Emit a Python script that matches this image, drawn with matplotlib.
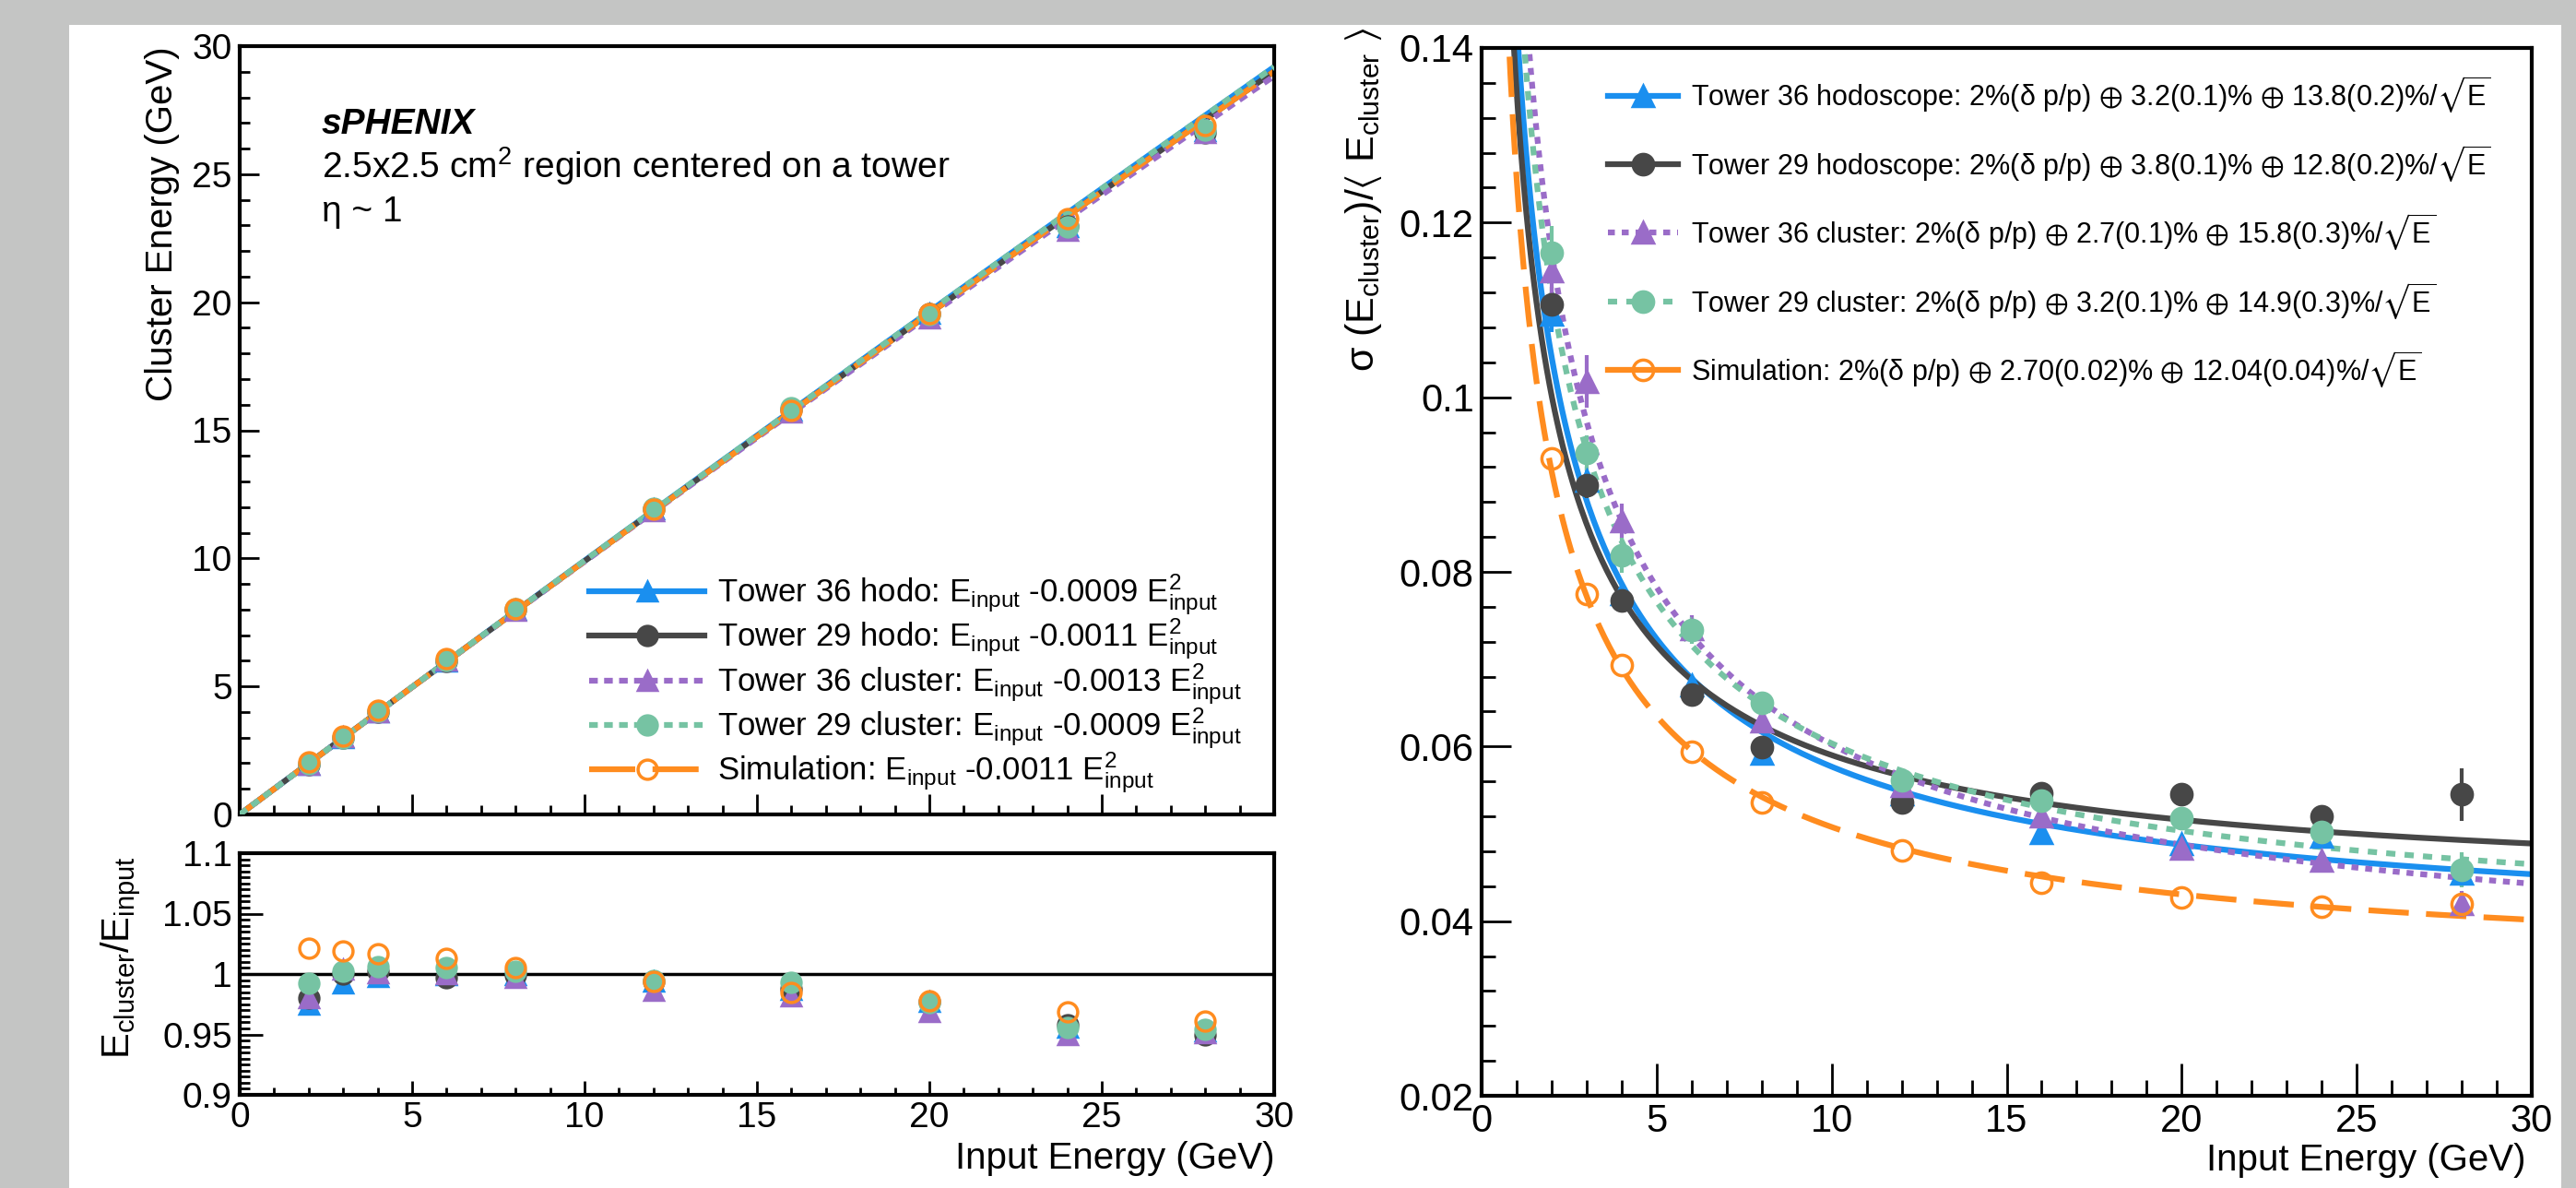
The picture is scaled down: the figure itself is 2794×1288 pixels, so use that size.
import numpy as np
import matplotlib
matplotlib.use('Agg')
import matplotlib.pyplot as plt
from matplotlib.lines import Line2D
from matplotlib.patches import Rectangle
from matplotlib.ticker import MultipleLocator, FuncFormatter

# ── data ──
energy = np.array([2, 3, 4, 6, 8, 12, 16, 20, 24, 28])

# E_cluster / E_input
ratio_t36_hodo = np.array([0.975, 0.992, 0.998, 0.999, 0.999, 0.994, 0.987, 0.977, 0.956, 0.953])
ratio_t29_hodo = np.array([0.980, 1.000, 1.002, 0.997, 0.999, 0.994, 0.988, 0.977, 0.958, 0.950])
ratio_t36_clus = np.array([0.980, 1.004, 1.001, 1.000, 0.997, 0.986, 0.982, 0.969, 0.950, 0.951])
ratio_t29_clus = np.array([0.992, 1.002, 1.006, 1.005, 1.002, 0.995, 0.993, 0.976, 0.956, 0.954])
ratio_sim      = np.array([1.021, 1.019, 1.017, 1.013, 1.005, 0.994, 0.985, 0.978, 0.969, 0.961])

# sigma / <E>
res_t36_hodo = np.array([0.1095, 0.0905, 0.0775, 0.0670, 0.0592, 0.0545, 0.0501, 0.0488, 0.0497, 0.0455])
res_t29_hodo = np.array([0.1106, 0.0899, 0.0767, 0.0660, 0.0599, 0.0536, 0.0546, 0.0545, 0.0520, 0.0545])
res_t36_clus = np.array([0.1144, 0.1018, 0.0858, 0.0735, 0.0629, 0.0555, 0.0520, 0.0483, 0.0469, 0.0420])
res_t29_clus = np.array([0.1166, 0.0936, 0.0819, 0.0733, 0.0650, 0.0561, 0.0538, 0.0518, 0.0502, 0.0459])
res_sim      = np.array([0.0930, 0.0775, 0.0693, 0.0594, 0.0536, 0.0481, 0.0444, 0.0427, 0.0417, 0.0420])

err_t36_hodo = np.array([0.002, 0.0015, 0.001, 0.001, 0.001, 0.0008, 0.0008, 0.0008, 0.001, 0.0015])
err_t29_hodo = np.array([0.002, 0.0015, 0.001, 0.001, 0.001, 0.0008, 0.0008, 0.0008, 0.001, 0.003])
err_t36_clus = np.array([0.003, 0.003, 0.002, 0.0015, 0.001, 0.001, 0.001, 0.001, 0.001, 0.0015])
err_t29_clus = np.array([0.003, 0.002, 0.002, 0.0015, 0.001, 0.001, 0.001, 0.001, 0.0015, 0.002])
err_sim      = np.zeros(10)

# fit parameters from the legends
quad_coef   = [0.0009, 0.0011, 0.0013, 0.0009, 0.0011]   # E_input - a E_input^2
beam_term   = 2.0                                        # % (delta p/p)
const_term  = [3.2, 3.8, 2.7, 3.2, 2.70]                 # %
stoch_term  = [13.8, 12.8, 15.8, 14.9, 12.04]            # %/sqrt(E)

lin_labels = [
    r'Tower 36 hodo: $\mathregular{E_{input}}$ -0.0009 $\mathregular{E^{2}_{input}}$',
    r'Tower 29 hodo: $\mathregular{E_{input}}$ -0.0011 $\mathregular{E^{2}_{input}}$',
    r'Tower 36 cluster: $\mathregular{E_{input}}$ -0.0013 $\mathregular{E^{2}_{input}}$',
    r'Tower 29 cluster: $\mathregular{E_{input}}$ -0.0009 $\mathregular{E^{2}_{input}}$',
    r'Simulation: $\mathregular{E_{input}}$ -0.0011 $\mathregular{E^{2}_{input}}$',
]
res_labels = [
    r'Tower 36 hodoscope: 2%(δ p/p) $\mathregular{\oplus}$ 3.2(0.1)% $\mathregular{\oplus}$ 13.8(0.2)%/$\mathregular{\sqrt{E}}$',
    r'Tower 29 hodoscope: 2%(δ p/p) $\mathregular{\oplus}$ 3.8(0.1)% $\mathregular{\oplus}$ 12.8(0.2)%/$\mathregular{\sqrt{E}}$',
    r'Tower 36 cluster: 2%(δ p/p) $\mathregular{\oplus}$ 2.7(0.1)% $\mathregular{\oplus}$ 15.8(0.3)%/$\mathregular{\sqrt{E}}$',
    r'Tower 29 cluster: 2%(δ p/p) $\mathregular{\oplus}$ 3.2(0.1)% $\mathregular{\oplus}$ 14.9(0.3)%/$\mathregular{\sqrt{E}}$',
    r'Simulation: 2%(δ p/p) $\mathregular{\oplus}$ 2.70(0.02)% $\mathregular{\oplus}$ 12.04(0.04)%/$\mathregular{\sqrt{E}}$',
]

ratios = [ratio_t36_hodo, ratio_t29_hodo, ratio_t36_clus, ratio_t29_clus, ratio_sim]
resols = [res_t36_hodo, res_t29_hodo, res_t36_clus, res_t29_clus, res_sim]
errors = [err_t36_hodo, err_t29_hodo, err_t36_clus, err_t29_clus, err_sim]

# ── style ──
colors  = ['#1a8fef', '#474747', '#9a6cc8', '#76c3a3', '#ff8c1f']
markers = ['^', 'o', '^', 'o', 'o']
filled  = [True, True, True, True, False]
ls_lin  = ['-', '-', (0, (1.5, 1.1)), (0, (1.5, 1.1)), (0, (8, 3))]
ls_res  = ['-', '-', (0, (1.2, 1.2)), (0, (1.6, 1.6)), (0, (7, 3))]
ls_res_leg = ['-', '-', (0, (1.2, 1.2)), (0, (1.6, 1.6)), '-']

plt.rcParams['font.family'] = ['Liberation Sans', 'DejaVu Sans']
plt.rcParams['mathtext.fontset'] = 'custom'
plt.rcParams['mathtext.rm'] = 'Liberation Sans'
plt.rcParams['mathtext.it'] = 'Liberation Sans:italic'
plt.rcParams['mathtext.bf'] = 'Liberation Sans:bold'
plt.rcParams['mathtext.fallback'] = 'stixsans'

W, H = 2794, 1288
fig = plt.figure(figsize=(W / 100, H / 100), dpi=100, facecolor='#c4c5c4')
fig.add_artist(Rectangle((75 / W, 0), (2778 - 75) / W, 1 - 27 / H,
                         transform=fig.transFigure, facecolor='white',
                         edgecolor='none', zorder=-10))

ax_top = fig.add_axes([260 / W, 1 - 883 / H, 1122 / W, 833 / H])
ax_rat = fig.add_axes([260 / W, 1 - 1187 / H, 1122 / W, 262 / H])
ax_res = fig.add_axes([1607 / W, 1 - 1188 / H, 1139 / W, 1136 / H])

fmt_g = FuncFormatter(lambda v, p: f'{v:g}')


def style_axis(ax, xmaj, xmin, ymaj, ymin, size):
    for s in ax.spines.values():
        s.set_linewidth(3)
    ax.tick_params(which='both', direction='in', top=False, right=False,
                   width=2, labelsize=size, pad=6)
    ax.tick_params(axis='x', which='major', length=xmaj)
    ax.tick_params(axis='x', which='minor', length=xmin)
    ax.tick_params(axis='y', which='major', length=ymaj)
    ax.tick_params(axis='y', which='minor', length=ymin)
    ax.yaxis.set_major_formatter(fmt_g)


# ── linearity ──
xfit = np.linspace(0, 30, 300)
for i in range(5):
    ax_top.plot(xfit, xfit - quad_coef[i] * xfit ** 2, color=colors[i],
                ls=ls_lin[i], lw=4.5, zorder=2 + (i == 3))
for i in range(5):
    ax_top.plot(energy, energy * ratios[i], ls='none', marker=markers[i], ms=15,
                color=colors[i], mfc=colors[i] if filled[i] else 'none',
                mew=2.5, zorder=5)
ax_top.set_xlim(0, 30)
ax_top.set_ylim(0, 30)
ax_top.xaxis.set_major_locator(MultipleLocator(5))
ax_top.xaxis.set_minor_locator(MultipleLocator(1))
ax_top.yaxis.set_major_locator(MultipleLocator(5))
ax_top.yaxis.set_minor_locator(MultipleLocator(1))
style_axis(ax_top, 16, 7, 15, 8, 28)
ax_top.tick_params(labelbottom=False)
ax_top.set_ylabel('Cluster Energy (GeV)', fontsize=29, loc='top')
ax_top.yaxis.set_label_coords(-0.058, 1.0)

ax_top.text(0.079, 0.886, 'sPHENIX', transform=ax_top.transAxes, fontsize=28,
            fontweight='bold', fontstyle='italic')
ax_top.text(0.079, 0.828, r'2.5x2.5 cm$\mathregular{^2}$ region centered on a tower',
            transform=ax_top.transAxes, fontsize=28)
ax_top.text(0.079, 0.772, 'η ~ 1', transform=ax_top.transAxes, fontsize=28)

lin_handles = [Line2D([], [], color=colors[i], ls=ls_lin[i], lw=4.5,
                      marker=markers[i], ms=15, mew=2.5,
                      mfc=colors[i] if filled[i] else 'none') for i in range(5)]
ax_top.legend(lin_handles, lin_labels, loc='upper left',
              bbox_to_anchor=(0.338, 0.315), frameon=False, fontsize=25,
              handlelength=3.6, handletextpad=0.4, labelspacing=-0.02,
              borderpad=0, borderaxespad=0)

# ── ratio ──
ax_rat.axhline(1.0, color='black', lw=2.5, zorder=1)
for i in range(5):
    ax_rat.plot(energy, ratios[i], ls='none', marker=markers[i], ms=15,
                color=colors[i], mfc=colors[i] if filled[i] else 'none',
                mew=2.5, zorder=5)
ax_rat.set_xlim(0, 30)
ax_rat.set_ylim(0.9, 1.1)
ax_rat.xaxis.set_major_locator(MultipleLocator(5))
ax_rat.xaxis.set_minor_locator(MultipleLocator(1))
ax_rat.yaxis.set_major_locator(MultipleLocator(0.05))
ax_rat.yaxis.set_minor_locator(MultipleLocator(0.005))
style_axis(ax_rat, 11, 6, 18, 8, 28)
ax_rat.tick_params(axis='x', pad=5)
ax_rat.set_ylabel(r'$\mathregular{E_{cluster}/E_{input}}$', fontsize=30)
ax_rat.yaxis.set_label_coords(-0.094, 0.57)
ax_rat.set_xlabel('Input Energy (GeV)', fontsize=29, loc='right')
ax_rat.xaxis.set_label_coords(1.0, -0.19)

# ── resolution ──
efit = np.linspace(0.3, 30, 400)
for i in range(5):
    sig = np.sqrt(beam_term ** 2 + const_term[i] ** 2 + stoch_term[i] ** 2 / efit) / 100
    ax_res.plot(efit, sig, color=colors[i], ls=ls_res[i], lw=4.5, zorder=2)
for i in range(5):
    ax_res.errorbar(energy, resols[i], yerr=errors[i], ls='none',
                    marker=markers[i], ms=16, color=colors[i],
                    mfc=colors[i] if filled[i] else 'none', mew=2.5,
                    elinewidth=3, capsize=0, zorder=5)
ax_res.set_xlim(0, 30)
ax_res.set_ylim(0.02, 0.14)
ax_res.xaxis.set_major_locator(MultipleLocator(5))
ax_res.xaxis.set_minor_locator(MultipleLocator(1))
ax_res.yaxis.set_major_locator(MultipleLocator(0.02))
ax_res.yaxis.set_minor_locator(MultipleLocator(0.004))
style_axis(ax_res, 25, 12, 23, 11, 30)
ax_res.set_ylabel(r'$\mathregular{\sigma\ (E_{cluster})/\langle\ E_{cluster}\ \rangle}$',
                  fontsize=31, loc='top')
ax_res.yaxis.set_label_coords(-0.093, 1.02)
ax_res.set_xlabel('Input Energy (GeV)', fontsize=29, loc='right')
ax_res.xaxis.set_label_coords(0.994, -0.045)

res_handles = [Line2D([], [], color=colors[i], ls=ls_res_leg[i], lw=4.5,
                      marker=markers[i], ms=16, mew=2.5,
                      mfc=colors[i] if filled[i] else 'none') for i in range(5)]
ax_res.legend(res_handles, res_labels, loc='upper left',
              bbox_to_anchor=(0.12, 0.975), frameon=False, fontsize=22,
              handlelength=2.5, handletextpad=0.45, labelspacing=1.0,
              borderpad=0, borderaxespad=0)

fig.savefig('out.png', dpi=100, facecolor=fig.get_facecolor())
plt.close(fig)
